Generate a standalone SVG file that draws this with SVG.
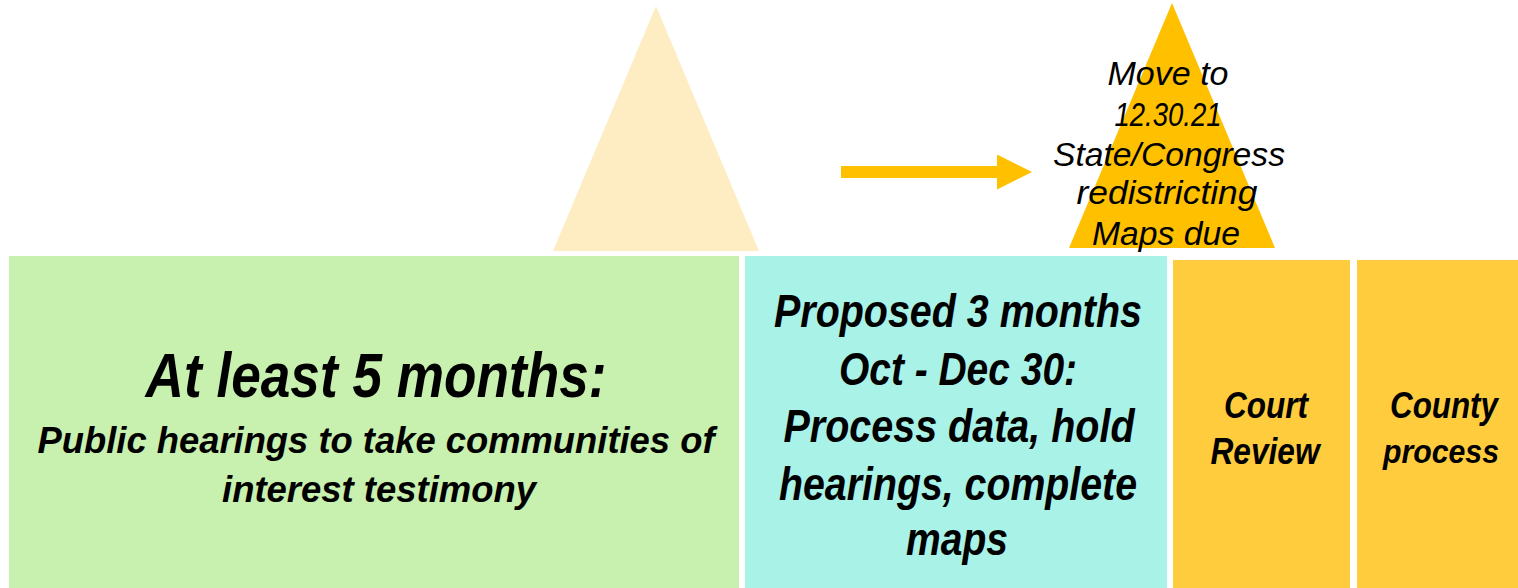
<svg xmlns="http://www.w3.org/2000/svg" width="1518" height="588" viewBox="0 0 1518 588">
<style>
.b{font-family:"Liberation Sans",Arial,sans-serif;font-weight:bold;font-style:italic;fill:#000;text-anchor:middle}
.t{font-family:"Liberation Sans",Arial,sans-serif;font-style:italic;fill:#000;text-anchor:middle;font-size:33px}
</style>
<defs>
<marker id="ah" markerUnits="userSpaceOnUse" markerWidth="36" markerHeight="36" refX="0" refY="17.5" orient="auto" viewBox="0 0 36 36">
<path d="M0,0 L35,17.5 L0,35 Z" fill="#FFC000"/>
</marker>
</defs>
<rect width="1518" height="588" fill="#fff"/>
<g id="milestone-light">
<polygon points="656,6 759,251 553,251" fill="#FEEDC2"/>
</g>
<g id="milestone-due">
<polygon points="1172,3 1275,248 1069,248" fill="#FFC000"/>
<text class="t" x="1168" y="85" textLength="121" lengthAdjust="spacingAndGlyphs">Move to</text>
<text class="t" x="1168" y="126" textLength="107" lengthAdjust="spacingAndGlyphs">12.30.21</text>
<text class="t" x="1169" y="166" textLength="232" lengthAdjust="spacingAndGlyphs">State/Congress</text>
<text class="t" x="1167" y="204" textLength="181" lengthAdjust="spacingAndGlyphs">redistricting</text>
<text class="t" x="1166" y="245" textLength="148" lengthAdjust="spacingAndGlyphs">Maps due</text>
</g>
<g id="phase-hearings">
<rect x="9" y="256" width="730" height="332" fill="#C8F0AE"/>
<text class="b" x="376" y="397" font-size="63" textLength="461" lengthAdjust="spacingAndGlyphs">At least 5 months:</text>
<text class="b" x="376" y="453" font-size="37" textLength="677" lengthAdjust="spacingAndGlyphs">Public hearings to take communities of</text>
<text class="b" x="379" y="502" font-size="37" textLength="314" lengthAdjust="spacingAndGlyphs">interest testimony</text>
</g>
<g id="phase-proposed">
<rect x="745" y="256" width="422" height="332" fill="#A8F2E8"/>
<text class="b" x="958" y="327" font-size="46" textLength="368" lengthAdjust="spacingAndGlyphs">Proposed 3 months</text>
<text class="b" x="958" y="385" font-size="46" textLength="238" lengthAdjust="spacingAndGlyphs">Oct - Dec 30:</text>
<text class="b" x="959" y="442" font-size="46" textLength="351" lengthAdjust="spacingAndGlyphs">Process data, hold</text>
<text class="b" x="958" y="500" font-size="46" textLength="358" lengthAdjust="spacingAndGlyphs">hearings, complete</text>
<text class="b" x="957" y="555" font-size="46" textLength="102" lengthAdjust="spacingAndGlyphs">maps</text>
</g>
<g id="phase-court">
<rect x="1173" y="260" width="177" height="328" fill="#FFCC3D"/>
<text class="b" x="1266" y="418" font-size="37" textLength="84" lengthAdjust="spacingAndGlyphs">Court</text>
<text class="b" x="1265" y="464" font-size="37" textLength="109" lengthAdjust="spacingAndGlyphs">Review</text>
</g>
<g id="phase-county">
<rect x="1357" y="260" width="161" height="328" fill="#FFCC3D"/>
<text class="b" x="1444" y="418" font-size="37" textLength="108" lengthAdjust="spacingAndGlyphs">County</text>
<text class="b" x="1441" y="463" font-size="34" textLength="116" lengthAdjust="spacingAndGlyphs">process</text>
</g>
<g id="connectors">
<line x1="841" y1="172" x2="997" y2="172" stroke="#FFC000" stroke-width="12" marker-end="url(#ah)"/>
</g>
</svg>
